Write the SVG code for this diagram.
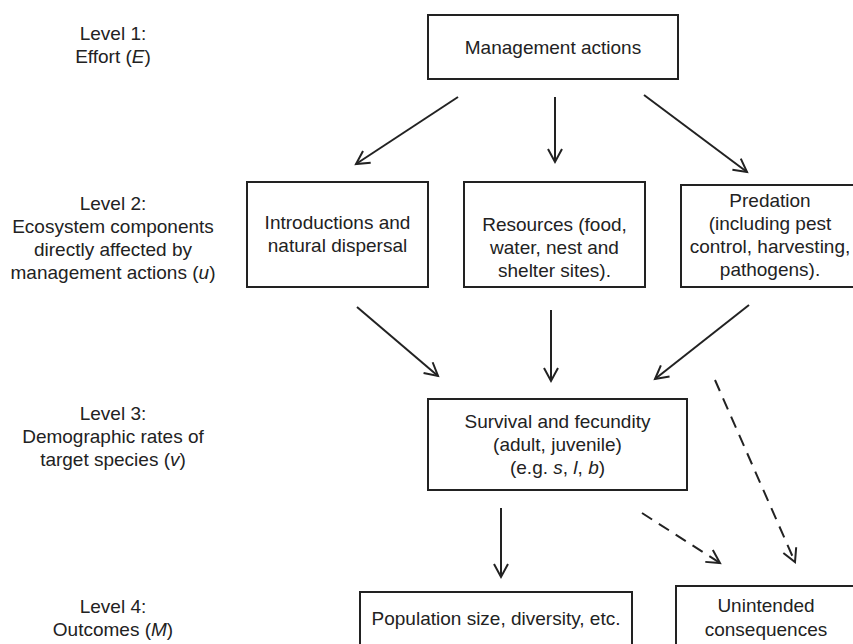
<svg xmlns="http://www.w3.org/2000/svg" width="853" height="644" viewBox="0 0 853 644">
<defs>
<style>
text{font-family:"Liberation Sans",Arial,sans-serif;font-size:19px;fill:#222;text-anchor:middle}
.box{fill:#fff;stroke:#222;stroke-width:2}
.c{fill:none;stroke:#222;stroke-width:2}
.d{stroke-dasharray:12 8}
</style>
<marker id="ah" markerUnits="userSpaceOnUse" markerWidth="20" markerHeight="20" viewBox="-16 -10 20 20" refX="0" refY="0" orient="auto">
<path d="M-13,-7 L0,0 L-13,7" fill="none" stroke="#222" stroke-width="2" stroke-dasharray="none"/>
</marker>
</defs>
<rect width="853" height="644" fill="#fff"/>
<g id="levels">
<text x="113" y="40">Level 1:</text>
<text x="113" y="63">Effort (<tspan font-style="italic">E</tspan>)</text>
<text x="113" y="210">Level 2:</text>
<text x="113" y="233">Ecosystem components</text>
<text x="113" y="256">directly affected by</text>
<text x="113" y="279">management actions (<tspan font-style="italic">u</tspan>)</text>
<text x="113" y="420">Level 3:</text>
<text x="113" y="443">Demographic rates of</text>
<text x="113" y="466">target species (<tspan font-style="italic">v</tspan>)</text>
<text x="113" y="613">Level 4:</text>
<text x="113" y="636">Outcomes (<tspan font-style="italic">M</tspan>)</text>
</g>
<g id="connectors">
<line class="c" x1="458" y1="97" x2="356" y2="164" marker-end="url(#ah)"/>
<line class="c" x1="555" y1="97" x2="555" y2="162" marker-end="url(#ah)"/>
<line class="c" x1="644" y1="95" x2="747" y2="172" marker-end="url(#ah)"/>
<line class="c" x1="357" y1="307" x2="438" y2="376" marker-end="url(#ah)"/>
<line class="c" x1="551" y1="310" x2="551" y2="381" marker-end="url(#ah)"/>
<line class="c" x1="749" y1="305" x2="655" y2="379" marker-end="url(#ah)"/>
<line class="c" x1="501" y1="508" x2="501" y2="577" marker-end="url(#ah)"/>
<line class="c d" x1="642" y1="513" x2="720" y2="563" marker-end="url(#ah)"/>
<line class="c d" x1="715" y1="380" x2="795" y2="562" marker-end="url(#ah)"/>
</g>
<g id="management">
<rect class="box" x="428" y="15" width="250" height="64"/>
<text x="553" y="54">Management actions</text>
</g>
<g id="introductions">
<rect class="box" x="247" y="182" width="181" height="105"/>
<text x="337.5" y="229">Introductions and</text>
<text x="337.5" y="252">natural dispersal</text>
</g>
<g id="resources">
<rect class="box" x="464" y="182" width="181" height="105"/>
<text x="554.5" y="231">Resources (food,</text>
<text x="554.5" y="254">water, nest and</text>
<text x="554.5" y="277">shelter sites).</text>
</g>
<g id="predation">
<rect class="box" x="681" y="185" width="180" height="102"/>
<text x="770" y="207">Predation</text>
<text x="770" y="230">(including pest</text>
<text x="770" y="253">control, harvesting,</text>
<text x="770" y="276">pathogens).</text>
</g>
<g id="survival">
<rect class="box" x="428" y="399" width="259" height="91"/>
<text x="557.5" y="428">Survival and fecundity</text>
<text x="557.5" y="451">(adult, juvenile)</text>
<text x="557.5" y="474">(e.g. <tspan font-style="italic">s</tspan>, <tspan font-style="italic">l</tspan>, <tspan font-style="italic">b</tspan>)</text>
</g>
<g id="population">
<rect class="box" x="360" y="592" width="272" height="62"/>
<text x="496" y="625">Population size, diversity, etc.</text>
</g>
<g id="unintended">
<rect class="box" x="676" y="586" width="182" height="70"/>
<text x="766" y="612">Unintended</text>
<text x="766" y="636">consequences</text>
</g>
</svg>
